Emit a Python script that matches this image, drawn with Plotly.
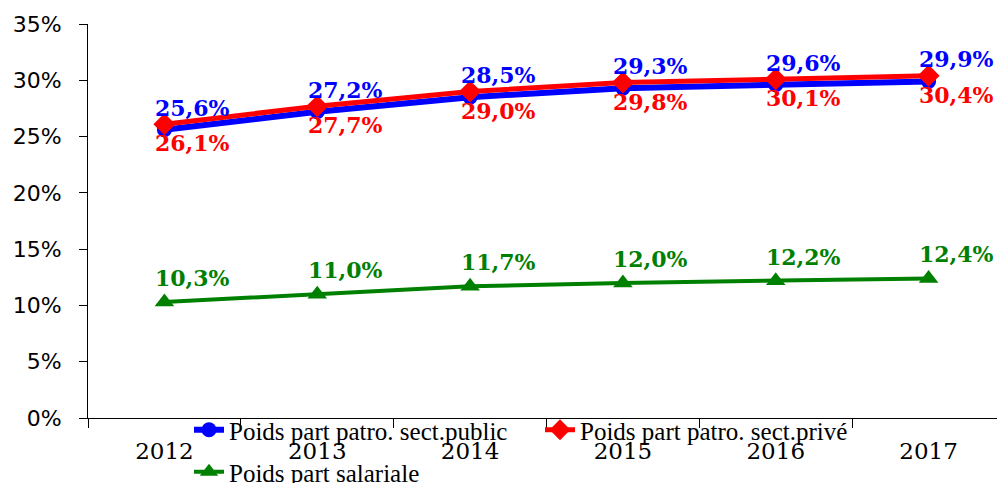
import plotly.graph_objects as go

years = ["2012", "2013", "2014", "2015", "2016", "2017"]
public = [25.6, 27.2, 28.5, 29.3, 29.6, 29.9]
prive = [26.1, 27.7, 29.0, 29.8, 30.1, 30.4]
salariale = [10.3, 11.0, 11.7, 12.0, 12.2, 12.4]
y_ticks = [0, 5, 10, 15, 20, 25, 30, 35]

BLUE, RED, GREEN = "#0000FF", "#FF0000", "#008000"
LAB_FONT = "DejaVu Serif"

def fmt(v):
    return f"{v:.1f}".replace(".", ",") + "%"

fig = go.Figure()
fig.add_trace(go.Scatter(x=years, y=public, mode="lines+markers", name="Poids part patro. sect.public",
                         line=dict(color=BLUE, width=6), marker=dict(symbol="circle", size=15, color=BLUE),
                         legend="legend"))
fig.add_trace(go.Scatter(x=years, y=prive, mode="lines+markers", name="Poids part patro. sect.privé",
                         line=dict(color=RED, width=5), marker=dict(symbol="diamond", size=17, color=RED),
                         legend="legend2"))
fig.add_trace(go.Scatter(x=years, y=salariale, mode="lines+markers", name="Poids part salariale",
                         line=dict(color=GREEN, width=4), marker=dict(symbol="triangle-up", size=17, color=GREEN),
                         legend="legend3"))

annotations = []
for series, color, ys in ((public, BLUE, 22), (prive, RED, -19), (salariale, GREEN, 24)):
    for i, yv in enumerate(series):
        annotations.append(dict(x=i, y=yv, xref="x", yref="y", text=f"<b>{fmt(yv)}</b>", showarrow=False,
                                xshift=28, yshift=ys,
                                font=dict(family=LAB_FONT, size=22, color=color)))

leg_font = dict(family="Liberation Serif", size=25, color="black")
def leg(xp, yp):
    return dict(x=xp, y=yp, xanchor="left", yanchor="middle", orientation="h",
                font=leg_font, bgcolor="rgba(0,0,0,0)", borderwidth=0,
                itemwidth=30, tracegroupgap=0)

# plot area in page pixels: x 88..1005, y 24..418 (page has an 8px body offset)
fig.update_layout(
    width=997, height=475,
    margin=dict(l=80, r=0, t=16, b=65, autoexpand=False),
    paper_bgcolor="white", plot_bgcolor="white",
    showlegend=True,
    legend=leg((189 - 88) / 917, (418 - 430) / 394),
    legend2=leg((540 - 88) / 917, (418 - 430) / 394),
    legend3=leg((189 - 88) / 917, (418 - 472) / 394),
    annotations=annotations,
    xaxis=dict(type="category", range=[-0.5, 5.5], showline=True, linecolor="black", linewidth=1,
               ticks="outside", tickson="boundaries", ticklen=9, tickcolor="black", tickwidth=1,
               showgrid=False, zeroline=False, ticklabelstandoff=12, automargin=False,
               tickfont=dict(family=LAB_FONT, size=23, color="black")),
    yaxis=dict(range=[0, 35], tickvals=y_ticks, ticktext=[f"{t}%" for t in y_ticks],
               showline=True, linecolor="black", linewidth=1,
               ticks="outside", ticklen=8, tickcolor="black", tickwidth=1,
               showgrid=False, zeroline=False, ticklabelstandoff=13, automargin=False,
               tickfont=dict(family="DejaVu Sans", size=22, color="black")),
)

fig.write_html("out.html")
